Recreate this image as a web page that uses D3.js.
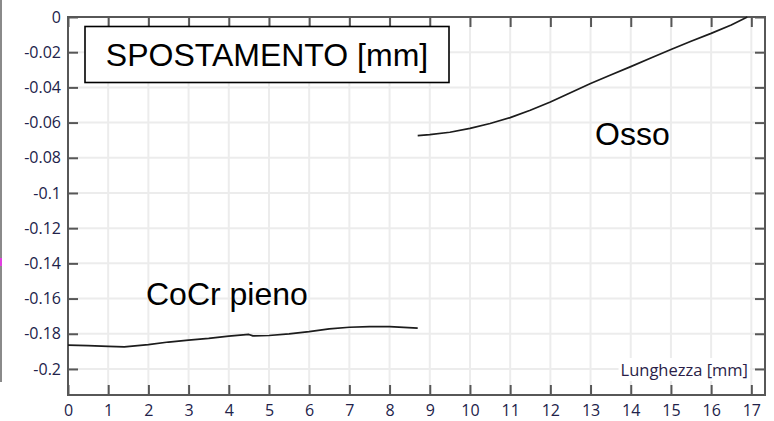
<!DOCTYPE html>
<html lang="it">
<head>
<meta charset="UTF-8" />
<title>Spostamento</title>
<script src="https://cdn.jsdelivr.net/npm/d3@7"></script>
<style>
  body { margin: 0; background: #fff; }
  svg { display: block; }
</style>
</head>
<body>
<script>
  // dati
  const xTicks = [0, 1, 2, 3, 4, 5, 6, 7, 8, 9, 10, 11, 12, 13, 14, 15, 16, 17];
  const yTicks = [0, -0.02, -0.04, -0.06, -0.08, -0.1, -0.12, -0.14, -0.16, -0.18, -0.2];
  const yTickLabels = ["0", "-0.02", "-0.04", "-0.06", "-0.08", "-0.1", "-0.12", "-0.14", "-0.16", "-0.18", "-0.2"];

  const cocrX = [0, 0.5, 1.0, 1.4, 2.0, 2.5, 3.0, 3.5, 4.0, 4.5, 4.6, 5.0, 5.5, 6.0, 6.5, 7.0, 7.5, 8.0, 8.7];
  const cocrY = [-0.1865, -0.1867, -0.1872, -0.1875, -0.1862, -0.1847, -0.1836, -0.1826, -0.1813, -0.1804, -0.1812, -0.1810, -0.1801, -0.1788, -0.1772, -0.1763, -0.1759, -0.1760, -0.1768];

  const ossoX = [8.7, 9.0, 9.5, 10, 10.5, 11, 11.5, 12, 12.5, 13, 13.5, 14, 14.5, 15, 15.5, 16, 16.5, 16.9];
  const ossoY = [-0.0674, -0.0668, -0.0655, -0.0633, -0.0605, -0.0572, -0.0530, -0.0483, -0.0430, -0.0378, -0.0330, -0.0282, -0.0233, -0.0185, -0.0138, -0.0093, -0.0045, 0];

  const width = 774, height = 421;
  const margin = { left: 68, top: 17, right: 9, bottom: 26 };

  const svg = d3.select("body").append("svg")
    .attr("width", width)
    .attr("height", height);

  const x = d3.scaleLinear().domain([0, 17.34]).range([margin.left, width - margin.right]);
  const y = d3.scaleLinear().domain([-0.2148, 0]).range([height - margin.bottom, margin.top]);

  // resto del grafico accanto (tagliato)
  svg.append("line")
    .attr("x1", 1).attr("x2", 1).attr("y1", 0).attr("y2", 382)
    .attr("stroke", "#8a8a8a").attr("stroke-width", 2);
  svg.append("rect").attr("x", 0).attr("y", 258).attr("width", 2).attr("height", 8).attr("fill", "#e040e0");

  // griglia
  svg.append("g").selectAll("line").data(xTicks).join("line")
    .attr("x1", d => x(d)).attr("x2", d => x(d))
    .attr("y1", y.range()[1]).attr("y2", y.range()[0])
    .attr("stroke", "#ececec").attr("stroke-width", 2);
  svg.append("g").selectAll("line").data(yTicks).join("line")
    .attr("x1", x.range()[0]).attr("x2", x.range()[1])
    .attr("y1", d => y(d)).attr("y2", d => y(d))
    .attr("stroke", "#ececec").attr("stroke-width", 2);

  const fontTick = "'Open Sans', 'Noto Sans', sans-serif";
  const tickSize = 16;

  const styleAxis = g => {
    g.select(".domain").remove();
    g.selectAll(".tick line").attr("stroke", "#575757").attr("stroke-width", 2);
    g.selectAll(".tick text").attr("fill", "#22224a").attr("font-size", tickSize).attr("font-family", fontTick);
  };

  svg.append("g")
    .attr("transform", `translate(0,${y.range()[0]})`)
    .call(d3.axisBottom(x).tickValues(xTicks).tickSize(-10).tickPadding(9.5).tickFormat(d3.format("d")))
    .call(styleAxis);

  svg.append("g")
    .attr("transform", `translate(${x.range()[0]},0)`)
    .call(d3.axisLeft(y).tickValues(yTicks).tickSize(-10).tickPadding(7).tickFormat((d, i) => yTickLabels[i]))
    .call(styleAxis);

  svg.append("g")
    .attr("transform", `translate(0,${y.range()[1]})`)
    .call(d3.axisTop(x).tickValues(xTicks).tickSize(-10).tickFormat(""))
    .call(styleAxis);

  svg.append("g")
    .attr("transform", `translate(${x.range()[1]},0)`)
    .call(d3.axisRight(y).tickValues(yTicks).tickSize(-10).tickFormat(""))
    .call(styleAxis);

  // cornice
  svg.append("rect")
    .attr("x", x.range()[0]).attr("y", y.range()[1])
    .attr("width", x.range()[1] - x.range()[0])
    .attr("height", y.range()[0] - y.range()[1])
    .attr("fill", "none").attr("stroke", "#575757").attr("stroke-width", 2);

  // etichetta asse x
  const lab = svg.append("g");
  const labText = lab.append("text")
    .attr("x", 748).attr("y", 376)
    .attr("text-anchor", "end")
    .attr("font-family", fontTick).attr("font-size", 16.5)
    .attr("fill", "#2a1e48")
    .text("Lunghezza [mm]");
  const bb = labText.node().getBBox();
  lab.insert("rect", "text")
    .attr("x", bb.x - 2).attr("y", bb.y).attr("width", bb.width + 4).attr("height", bb.height)
    .attr("fill", "#fff");

  // curve
  const line = d3.line().x(d => x(d[0])).y(d => y(d[1]));
  const series = [d3.zip(cocrX, cocrY), d3.zip(ossoX, ossoY)];
  svg.append("g").selectAll("path").data(series).join("path")
    .attr("d", line)
    .attr("fill", "none")
    .attr("stroke", "#1c1c1c")
    .attr("stroke-width", 1.7)
    .attr("stroke-linejoin", "round");

  // titolo
  const fontLab = "Arial, 'Liberation Sans', sans-serif";
  svg.append("rect")
    .attr("x", 85).attr("y", 26.5).attr("width", 364).attr("height", 56)
    .attr("fill", "#fff").attr("stroke", "#000").attr("stroke-width", 1.6);
  svg.append("text")
    .attr("x", 267).attr("y", 65.5)
    .attr("text-anchor", "middle")
    .attr("font-family", fontLab)
    .attr("font-size", 32)
    .text("SPOSTAMENTO [mm]");

  svg.append("text")
    .attr("x", 146).attr("y", 304.5)
    .attr("font-family", fontLab)
    .attr("font-size", 32)
    .text("CoCr pieno");

  svg.append("text")
    .attr("x", 595).attr("y", 145)
    .attr("font-family", fontLab)
    .attr("font-size", 32)
    .text("Osso");
</script>
</body>
</html>
